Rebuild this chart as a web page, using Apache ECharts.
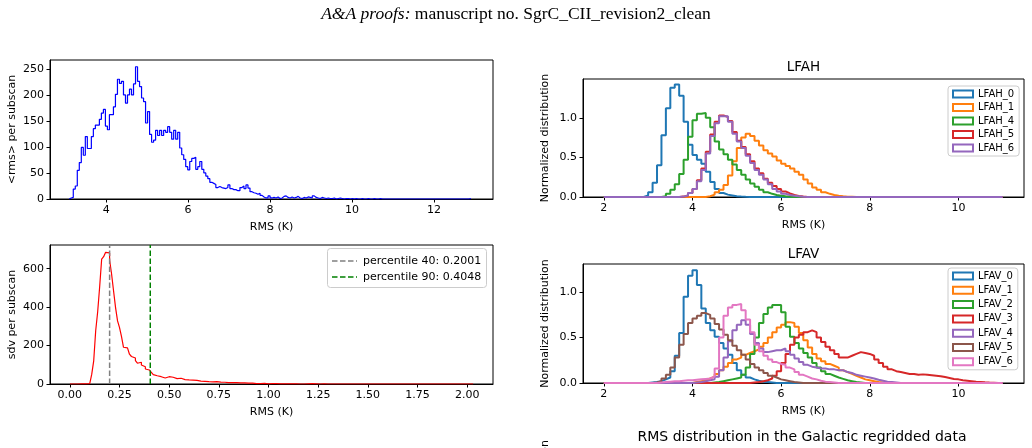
<!DOCTYPE html>
<html>
<head>
<meta charset="utf-8">
<script src="https://cdn.jsdelivr.net/npm/echarts@6/dist/echarts.min.js"></script>
<style>
  html, body { margin: 0; padding: 0; background: #fff; }
  #main { width: 1032px; height: 448px; }
</style>
</head>
<body>
<div id="main"></div>
<script>
// ---- top left: <rms> per subscan (bins of 0.049 K starting at 3.1 K)
const rmsStart = 3.1;
const rmsWidth = 0.049;
const rmsCounts = [
  2, 3, 19, 25, 55, 70, 99, 84, 120, 97,
  97, 120, 135, 142, 142, 153, 165, 172, 140, 133,
  162, 162, 177, 201, 230, 222, 226, 200, 184, 200,
  211, 200, 221, 254, 226, 216, 194, 187, 146, 168,
  124, 109, 113, 132, 122, 132, 122, 132, 128, 139,
  128, 115, 132, 115, 128, 98, 85, 76, 62, 56,
  72, 78, 80, 57, 62, 72, 57, 50, 44, 39,
  32, 30, 28, 22, 24, 22, 21, 20, 22, 27,
  20, 18, 18, 16, 16, 22, 25, 20, 27, 21,
  14, 12, 11, 9, 11, 7, 4, 2, 2, 6,
  2,
  3, 2, 4, 1, 2, 5, 6, 3, 2,
  4, 2, 3, 5, 2, 1, 3, 2, 4, 3,
  2, 6, 3, 2, 1, 3, 2, 1, 2, 1,
  1, 2, 0, 1, 2, 1, 0, 1, 1, 0,
  1, 0, 1, 0, 0, 1, 0, 0, 1, 0,
  0, 1, 0, 0, 1, 0, 0, 0, 0, 0,
  0, 0, 0, 0, 0, 0, 0, 0, 0, 0,
  0, 0, 0, 0, 0, 0, 0, 0, 0, 0,
  0, 0, 0, 0, 0, 0, 0, 0, 0, 0,
  0, 0, 0, 0, 0, 0, 0, 0, 0, 1
];
const rmsXTicks = [4, 6, 8, 10, 12];
const rmsYTicks = [0, 50, 100, 150, 200, 250];

// ---- bottom left: sdv per subscan (bins of 0.01 K from 0)
const sdvStart = 0;
const sdvWidth = 0.01;
const sdvCounts = [
  0, 0, 0, 0, 0, 1, 0, 1, 1, 2, 3,
  50, 120, 277, 376, 506, 649, 662, 685, 682, 645,
  572, 484, 397, 328, 293, 246, 191, 188, 180, 155,
  143, 135, 121, 108, 113, 99, 90, 78, 73, 69,
  61, 49, 43, 43, 38, 38, 31, 33, 38, 30,
  35, 28, 28, 24, 30, 24, 23, 23, 21, 22,
  20, 18, 19, 16, 15, 17, 14, 13, 12, 14,
  11, 10, 12, 9, 10, 8, 9, 8, 7, 8,
  7, 6, 7, 5, 6, 5, 6, 4, 5, 4,
  5, 3, 2, 3, 2, 2, 3, 2, 1, 2,
  2, 1, 2, 1, 1, 2, 1, 0, 1, 1,
  1, 0, 1, 1, 0, 1, 0, 0, 1, 0,
  2, 0, 1, 0, 0, 0, 1, 0, 0, 0,
  0, 0, 0, 0, 0, 0, 0, 0, 0, 0,
  0, 0, 0, 0, 0, 0, 0, 0, 0, 0,
  0, 0, 0, 0, 0, 0, 0, 0, 0, 0,
  0, 0, 0, 0, 0, 0, 0, 0, 0, 0,
  0, 0, 0, 0, 0, 0, 0, 0, 0, 0,
  0, 0, 0, 0, 0, 0, 0, 0, 0, 0,
  0, 0, 0, 0, 0, 0, 0, 0, 0, 0,
  0, 0
];
const sdvXTicks = [0, 0.25, 0.5, 0.75, 1, 1.25, 1.5, 1.75, 2];
const sdvYTicks = [0, 200, 400, 600];
const pctNames = ['percentile 40', 'percentile 90'];
const pctValues = [0.2001, 0.4048];
const pctColors = ['#808080', '#008000'];

// ---- right: normalized distributions, 0.1 K bins on 2..11 K
const binStart = 2;
const binEnd = 11;
const binWidth = 0.1;
const normXTicks = [2, 4, 6, 8, 10];
const normYTicks = [0, 0.5, 1];

const lfahNames = ['LFAH_0', 'LFAH_1', 'LFAH_4', 'LFAH_5', 'LFAH_6'];
const lfahFrom = [2.9, 4.3, 3.3, 3.7, 3.7];
const lfah0 = [0.02, 0.06, 0.18, 0.40, 0.78, 1.12, 1.38, 1.42, 1.28, 0.95, 0.66, 0.53, 0.47, 0.42, 0.32, 0.19, 0.10, 0.05, 0.03, 0.02, 0.01, 0.005, 0.002];
const lfah1 = [0.01, 0.03, 0.06, 0.09, 0.15, 0.27, 0.45, 0.62, 0.75, 0.80, 0.77, 0.71, 0.65, 0.59, 0.55, 0.51, 0.46, 0.42, 0.39, 0.36, 0.32, 0.28, 0.22, 0.17, 0.12, 0.09, 0.06, 0.04, 0.025, 0.015, 0.008, 0.004, 0.002];
const lfah4 = [0.01, 0.04, 0.09, 0.16, 0.29, 0.47, 0.76, 0.97, 1.05, 1.06, 1.00, 0.88, 0.70, 0.60, 0.54, 0.47, 0.41, 0.34, 0.28, 0.22, 0.17, 0.13, 0.09, 0.06, 0.04, 0.025, 0.015, 0.008, 0.004];
const lfah5 = [0.005, 0.02, 0.05, 0.10, 0.21, 0.36, 0.57, 0.79, 0.95, 1.03, 1.01, 0.96, 0.82, 0.71, 0.63, 0.54, 0.45, 0.36, 0.30, 0.23, 0.18, 0.14, 0.10, 0.07, 0.045, 0.025, 0.012, 0.005];
const lfah6 = [0.005, 0.02, 0.05, 0.10, 0.20, 0.34, 0.55, 0.77, 0.93, 1.02, 1.02, 0.95, 0.80, 0.70, 0.62, 0.52, 0.43, 0.34, 0.28, 0.22, 0.16, 0.10, 0.07, 0.04, 0.025, 0.015, 0.008, 0.003];
const lfahValues = [lfah0, lfah1, lfah4, lfah5, lfah6];
const lfahColors = ['#1f77b4', '#ff7f0e', '#2ca02c', '#d62728', '#9467bd'];

const lfavNames = ['LFAV_0', 'LFAV_1', 'LFAV_2', 'LFAV_3', 'LFAV_4', 'LFAV_5', 'LFAV_6'];
const lfavFrom = [3.0, 4.0, 4.4, 5.3, 4.0, 3.1, 3.2];
const lfav0 = [0.005, 0.01, 0.02, 0.04, 0.06, 0.13, 0.30, 0.55, 0.95, 1.18, 1.24, 1.08, 0.82, 0.66, 0.58, 0.51, 0.44, 0.38, 0.31, 0.22, 0.14, 0.09, 0.06, 0.04, 0.025, 0.015, 0.01, 0.005];
const lfav1 = [0.01, 0.02, 0.03, 0.05, 0.07, 0.10, 0.14, 0.18, 0.22, 0.26, 0.28, 0.31, 0.33, 0.35, 0.37, 0.40, 0.44, 0.50, 0.56, 0.61, 0.64, 0.67, 0.66, 0.62, 0.55, 0.47, 0.39, 0.32, 0.27, 0.24, 0.21, 0.19, 0.17, 0.14, 0.12, 0.10, 0.08, 0.06, 0.04, 0.03, 0.02, 0.01, 0.005];
const lfav2 = [0.005, 0.01, 0.02, 0.03, 0.04, 0.05, 0.06, 0.09, 0.17, 0.32, 0.50, 0.66, 0.76, 0.83, 0.86, 0.86, 0.78, 0.62, 0.51, 0.44, 0.38, 0.33, 0.28, 0.22, 0.17, 0.13, 0.10, 0.08, 0.06, 0.045, 0.03, 0.02, 0.01, 0.005];
const lfav3 = [0.005, 0.01, 0.02, 0.03, 0.05, 0.08, 0.13, 0.22, 0.32, 0.42, 0.50, 0.53, 0.56, 0.58, 0.56, 0.50, 0.45, 0.40, 0.36, 0.32, 0.28, 0.28, 0.30, 0.32, 0.34, 0.33, 0.32, 0.30, 0.26, 0.22, 0.18, 0.15, 0.13, 0.12, 0.11, 0.10, 0.10, 0.09, 0.095, 0.09, 0.085, 0.08, 0.075, 0.065, 0.055, 0.045, 0.04, 0.03, 0.025, 0.02, 0.015, 0.012, 0.008, 0.005, 0.003];
const lfav4 = [0.005, 0.01, 0.02, 0.03, 0.04, 0.07, 0.14, 0.28, 0.46, 0.58, 0.64, 0.69, 0.64, 0.54, 0.44, 0.38, 0.34, 0.35, 0.36, 0.36, 0.38, 0.35, 0.31, 0.27, 0.23, 0.20, 0.18, 0.17, 0.16, 0.16, 0.15, 0.15, 0.14, 0.14, 0.12, 0.11, 0.09, 0.08, 0.07, 0.06, 0.05, 0.035, 0.025, 0.015, 0.01, 0.005];
const lfav5 = [0.005, 0.02, 0.05, 0.09, 0.17, 0.28, 0.42, 0.54, 0.66, 0.71, 0.74, 0.77, 0.75, 0.71, 0.65, 0.59, 0.53, 0.47, 0.41, 0.36, 0.31, 0.26, 0.21, 0.17, 0.14, 0.11, 0.08, 0.06, 0.04, 0.03, 0.02, 0.01, 0.005];
const lfav6 = [0.005, 0.01, 0.015, 0.02, 0.02, 0.025, 0.03, 0.03, 0.035, 0.04, 0.045, 0.05, 0.07, 0.16, 0.50, 0.74, 0.83, 0.86, 0.87, 0.80, 0.70, 0.56, 0.42, 0.35, 0.30, 0.26, 0.23, 0.21, 0.20, 0.17, 0.15, 0.12, 0.09, 0.07, 0.05, 0.04, 0.025, 0.015, 0.01, 0.005];
const lfavValues = [lfav0, lfav1, lfav2, lfav3, lfav4, lfav5, lfav6];
const lfavColors = ['#1f77b4', '#ff7f0e', '#2ca02c', '#d62728', '#9467bd', '#8c564b', '#e377c2'];

// histogram outline (matplotlib histtype='step')
function steps(start, width, vals) {
  const pts = [[start, 0]];
  vals.forEach((v, i) => pts.push([+(start + i * width).toFixed(4), v]));
  const end = +(start + vals.length * width).toFixed(4);
  pts.push([end, vals[vals.length - 1]], [end, 0]);
  return pts;
}
// put a series on the common 2..11 K bins (empty bins stay 0)
function onBins(from, vals) {
  const n = Math.round((binEnd - binStart) / binWidth);
  const off = Math.round((from - binStart) / binWidth);
  const out = new Array(n).fill(0);
  vals.forEach((v, i) => { out[off + i] = v; });
  return out;
}

const FONT = 'DejaVu Sans';
const txt = { color: '#000', fontFamily: FONT, fontSize: 11 };

function xAxis(gi, min, max, ticks, fmt) {
  return {
    type: 'value', gridIndex: gi, min: min, max: max,
    name: 'RMS (K)', nameLocation: 'middle', nameGap: 23, nameTextStyle: txt,
    axisLine: { show: true, onZero: false, lineStyle: { color: '#000', width: 1 } },
    axisTick: { show: true, length: 3.5, customValues: ticks, lineStyle: { color: '#000' } },
    axisLabel: Object.assign({ margin: 6, customValues: ticks, formatter: fmt }, txt),
    splitLine: { show: false }
  };
}
function yAxis(gi, min, max, ticks, fmt, name) {
  return {
    type: 'value', gridIndex: gi, min: min, max: max,
    name: name, nameLocation: 'middle', nameGap: 32, nameTextStyle: txt,
    axisLine: { show: true, onZero: false, lineStyle: { color: '#000', width: 1 } },
    axisTick: { show: true, length: 3.5, customValues: ticks, lineStyle: { color: '#000' } },
    axisLabel: Object.assign({ margin: 6, customValues: ticks, formatter: fmt }, txt),
    splitLine: { show: false }
  };
}
const gridBase = { show: true, borderColor: '#000', borderWidth: 1, backgroundColor: 'transparent', containLabel: false, outerBoundsMode: 'none' };

const series = [];
series.push({
  type: 'line', xAxisIndex: 0, yAxisIndex: 0, step: 'end', symbol: 'none',
  data: steps(rmsStart, rmsWidth, rmsCounts),
  lineStyle: { color: '#0000ff', width: 1.2 }, itemStyle: { color: '#0000ff' }
});
series.push({
  type: 'line', xAxisIndex: 1, yAxisIndex: 1, step: 'end', symbol: 'none',
  data: steps(sdvStart, sdvWidth, sdvCounts),
  lineStyle: { color: '#ff0000', width: 1.2 }, itemStyle: { color: '#ff0000' }
});
const sdvYMax = 723;
pctValues.forEach((v, i) => {
  series.push({
    type: 'line', xAxisIndex: 1, yAxisIndex: 1, symbol: 'none',
    data: [[v, 0], [v, sdvYMax]],
    lineStyle: { color: pctColors[i], width: 1.5, type: [5.5, 2.5] }
  });
});
lfahNames.forEach((n, i) => {
  series.push({
    name: n, type: 'line', xAxisIndex: 2, yAxisIndex: 2, step: 'end', symbol: 'none',
    data: steps(binStart, binWidth, onBins(lfahFrom[i], lfahValues[i])),
    lineStyle: { color: lfahColors[i], width: 2 }, itemStyle: { color: lfahColors[i] }
  });
});
lfavNames.forEach((n, i) => {
  series.push({
    name: n, type: 'line', xAxisIndex: 3, yAxisIndex: 3, step: 'end', symbol: 'none',
    data: steps(binStart, binWidth, onBins(lfavFrom[i], lfavValues[i])),
    lineStyle: { color: lfavColors[i], width: 2 }, itemStyle: { color: lfavColors[i] }
  });
});

function legendCfg(names, colors, top, gap) {
  return {
    data: names.map((n, i) => ({
      name: n, icon: 'rect',
      itemStyle: { color: 'rgba(255,255,255,0)', borderColor: colors[i], borderWidth: 2 }
    })),
    orient: 'vertical', left: 948, top: top,
    itemWidth: 20, itemHeight: 7, itemGap: gap, itemTextGap: 7,
    padding: [3, 5, 3, 4], borderColor: '#cccccc', borderWidth: 1, borderRadius: 3,
    backgroundColor: 'rgba(255,255,255,0.8)', selectedMode: false,
    textStyle: { color: '#000', fontFamily: FONT, fontSize: 10 }
  };
}

const fmt0 = v => String(v);
const fmt1 = v => v.toFixed(1);
const fmt2 = v => v.toFixed(2);

const chart = echarts.init(document.getElementById('main'), null, { renderer: 'canvas' });
chart.setOption({
  animation: false,
  backgroundColor: '#fff',
  textStyle: { fontFamily: FONT },
  title: [
    {
      text: '{i|A&A proofs:} manuscript no. SgrC_CII_revision2_clean',
      left: 'center', top: 5, padding: 0,
      textStyle: {
        fontFamily: 'Liberation Serif', fontSize: 17.5, fontWeight: 'normal', color: '#000',
        rich: { i: { fontFamily: 'Liberation Serif', fontSize: 17.5, fontStyle: 'italic', color: '#000' } }
      }
    },
    { text: 'LFAH', left: 803.5, top: 60, textAlign: 'center', padding: 0,
      textStyle: { fontFamily: FONT, fontSize: 13.5, fontWeight: 'normal', color: '#000' } },
    { text: 'LFAV', left: 803.5, top: 247, textAlign: 'center', padding: 0,
      textStyle: { fontFamily: FONT, fontSize: 13.5, fontWeight: 'normal', color: '#000' } },
    { text: 'RMS distribution in the Galactic regridded data', left: 802, top: 430, textAlign: 'center', padding: 0,
      textStyle: { fontFamily: FONT, fontSize: 14, fontWeight: 'normal', color: '#000' } }
  ],
  grid: [
    Object.assign({ left: 50, top: 60, width: 443, height: 139 }, gridBase),
    Object.assign({ left: 50, top: 245, width: 443, height: 139 }, gridBase),
    Object.assign({ left: 583, top: 79, width: 441, height: 118 }, gridBase),
    Object.assign({ left: 583, top: 264, width: 441, height: 119 }, gridBase)
  ],
  xAxis: [
    xAxis(0, 2.63, 13.44, rmsXTicks, fmt0),
    xAxis(1, -0.1, 2.13, sdvXTicks, fmt2),
    xAxis(2, 1.53, 11.48, normXTicks, fmt0),
    xAxis(3, 1.53, 11.48, normXTicks, fmt0)
  ],
  yAxis: [
    yAxis(0, 0, 267, rmsYTicks, fmt0, '<rms> per subscan'),
    yAxis(1, 0, sdvYMax, sdvYTicks, fmt0, 'sdv per subscan'),
    yAxis(2, 0, 1.49, normYTicks, fmt1, 'Normalized distribution'),
    yAxis(3, 0, 1.31, normYTicks, fmt1, 'Normalized distribution')
  ],
  legend: [
    legendCfg(lfahNames, lfahColors, 86, 3.5),
    legendCfg(lfavNames, lfavColors, 268, 4.3)
  ],
  graphic: [
    // legend of the percentile lines
    { type: 'rect', shape: { x: 327.5, y: 248.5, width: 159, height: 39, r: 3 },
      style: { fill: 'rgba(255,255,255,0.8)', stroke: '#cccccc', lineWidth: 1 }, z: 10 },
    { type: 'line', shape: { x1: 332, y1: 261, x2: 357, y2: 261 },
      style: { stroke: pctColors[0], lineWidth: 1.5, lineDash: [5.5, 2.5] }, z: 11 },
    { type: 'line', shape: { x1: 332, y1: 277, x2: 357, y2: 277 },
      style: { stroke: pctColors[1], lineWidth: 1.5, lineDash: [5.5, 2.5] }, z: 11 },
    { type: 'text', x: 363, y: 261, z: 11,
      style: { text: pctNames[0] + ': ' + pctValues[0].toFixed(4), fill: '#000', font: '11px "DejaVu Sans"', verticalAlign: 'middle' } },
    { type: 'text', x: 363, y: 277, z: 11,
      style: { text: pctNames[1] + ': ' + pctValues[1].toFixed(4), fill: '#000', font: '11px "DejaVu Sans"', verticalAlign: 'middle' } },
    // y label of the next (cut off) panel
    { type: 'text', x: 545, y: 440, rotation: Math.PI / 2,
      style: { text: 'Normalized distribution', fill: '#000', font: '11px "DejaVu Sans"', align: 'right', verticalAlign: 'middle' } }
  ],
  series: series
});
</script>
</body>
</html>
